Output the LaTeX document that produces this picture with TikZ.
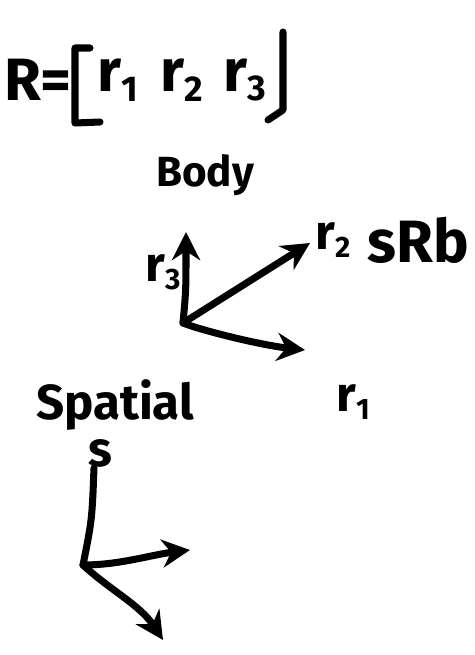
\documentclass[tikz,border=0pt]{standalone}
\usepackage{fontspec}
\setmainfont{Fira Sans}
\usetikzlibrary{arrows.meta}
\newcommand\colr[1]{r\raisebox{-0.3ex}{\scalebox{0.6}{#1}}}
\tikzset{
  pen/.style={line width=4pt, line cap=round, line join=round},
  axis/.style={pen, -{Stealth[length=16pt, width=16pt]}},
  hand/.style={inner sep=0pt, font=\fontsize{28}{28}\selectfont\bfseries},
  bighand/.style={inner sep=0pt, font=\fontsize{34}{34}\selectfont\bfseries},
}
\begin{document}
\begin{tikzpicture}[x=0.02cm, y=-0.02cm]
\useasboundingbox (0,0) rectangle (474,655);

% rotation matrix as column vectors
\node[bighand] (R) at (38,80) {R=};
\draw[pen] (90,48) -- (75,48) -- (75,123) -- (100,122);
\node[bighand] (c1) at (118,80) {\colr{1}};
\node[bighand] (c2) at (182,80) {\colr{2}};
\node[bighand] (c3) at (245,80) {\colr{3}};
\draw[pen] (283,32) -- (283,110) -- (268,120);

% body frame
\node[hand, font=\fontsize{24}{24}\selectfont\bfseries] (body) at (205,175) {Body};
\coordinate (bo) at (183,323);
\coordinate (b3) at (186,232);
\coordinate (b2) at (310,243);
\coordinate (b1) at (305,350);
\draw[axis] (bo) .. controls (186,290) .. (b3);
\draw[axis] (bo) -- (b2);
\draw[axis] (bo) .. controls (200,330) and (260,345) .. (b1);
\node[hand] (l3) at (163,272) {\colr{3}};
\node[hand] (l2) at (333,240) {\colr{2}};
\node[bighand] (sRb) at (418,240) {sRb};
\node[hand] (l1) at (353,402) {\colr{1}};

% spatial frame
\node[hand] (spatial) at (115,405) {Spatial};
\node[hand] (s) at (100,453) {s};
\coordinate (so) at (83,565);
\coordinate (s3) at (94,468);
\coordinate (s2) at (190,550);
\coordinate (s1) at (163,640);
\draw[pen] (so) .. controls (92,520) .. (s3);
\draw[axis] (so) .. controls (120,565) and (150,555) .. (s2);
\draw[axis] (so) .. controls (110,590) and (140,605) .. (s1);
\end{tikzpicture}
\end{document}
